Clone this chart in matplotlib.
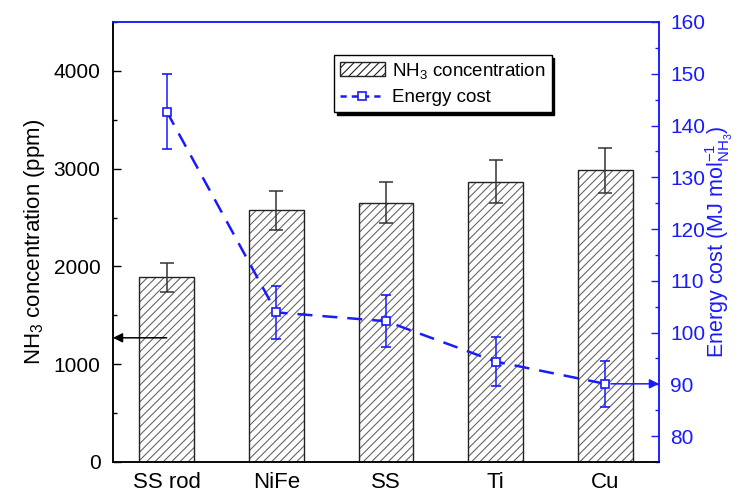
import matplotlib
matplotlib.use("Agg")
import matplotlib.pyplot as plt
from matplotlib.lines import Line2D
from matplotlib.patches import Patch
from matplotlib.ticker import MultipleLocator

# --- datos ---
electrodes = ["SS rod", "NiFe", "SS", "Ti", "Cu"]
nh3_ppm = [1888, 2575, 2652, 2867, 2983]
nh3_err = [150, 200, 208, 221, 233]
energy_cost = [142.7, 103.9, 102.2, 94.4, 90.1]
energy_err = [7.2, 5.1, 5.0, 4.7, 4.5]

plt.rcParams["font.family"] = ["Liberation Sans", "DejaVu Sans"]
plt.rcParams["mathtext.fontset"] = "custom"
plt.rcParams["mathtext.rm"] = "Liberation Sans"
plt.rcParams["mathtext.default"] = "regular"
plt.rcParams["hatch.linewidth"] = 0.8

BLUE = "#1a1aff"
FS_TICK = 15
FS_LAB = 16

fig = plt.figure(figsize=(7.42, 4.93), dpi=100)
ax = fig.add_axes([0.1523, 0.0629, 0.7358, 0.8925])
ax2 = ax.twinx()

x = list(range(len(electrodes)))

# barras: relleno con rayado gris + borde negro encima
ax.bar(x, nh3_ppm, width=0.5, color="white", edgecolor="#666666",
       hatch="////", linewidth=0, zorder=2)
ax.bar(x, nh3_ppm, width=0.5, fill=False, edgecolor="#222222",
       linewidth=1.0, zorder=3)
ax.errorbar(x, nh3_ppm, yerr=nh3_err, fmt="none", ecolor="#333333",
            elinewidth=1.1, capsize=4.7, capthick=1.1, zorder=4)

ax.set_xlim(-0.49, 4.49)
ax.set_ylim(0, 4500)
ax.yaxis.set_major_locator(MultipleLocator(1000))
ax.yaxis.set_minor_locator(MultipleLocator(500))
ax.set_xticks(x)
ax.set_xticklabels(electrodes, fontsize=FS_LAB)
ax.tick_params(axis="x", length=0, pad=7)
ax.tick_params(axis="y", which="both", direction="in", labelsize=FS_TICK, pad=9)
ax.tick_params(axis="y", which="major", length=6, width=1)
ax.tick_params(axis="y", which="minor", length=3, width=1)
ax.set_ylabel("NH$_3$ concentration (ppm)", fontsize=FS_LAB, labelpad=5)

# curva de coste energetico
ax2.errorbar(x, energy_cost, yerr=energy_err, color=BLUE, ecolor=BLUE,
             elinewidth=1.1, capsize=3.4, capthick=1.1, lw=1.8,
             dashes=(6, 4), marker="s", ms=6, mfc="white", mec=BLUE,
             mew=1.2, zorder=5)
ax2.set_ylim(75, 160)
ax2.set_yticks(range(80, 161, 10))
ax2.yaxis.set_minor_locator(MultipleLocator(5))
ax2.tick_params(axis="y", which="both", direction="in", colors=BLUE,
                labelsize=FS_TICK, pad=8)
ax2.tick_params(axis="y", which="major", length=6, width=1)
ax2.tick_params(axis="y", which="minor", length=3, width=1)
ax2.set_ylabel(r"Energy cost (MJ mol$_{NH_3}^{-1}$)", color=BLUE,
               fontsize=15.5, labelpad=-1)

for a in (ax, ax2):
    for s in a.spines.values():
        s.set_linewidth(1.1)
    a.spines["right"].set_color(BLUE)
    a.spines["top"].set_color(BLUE)
    a.spines["left"].set_color("black")
    a.spines["bottom"].set_color("black")

# flechas indicando el eje de cada serie
ax.annotate("", xy=(0, 1270), xycoords=("axes fraction", "data"),
            xytext=(x[0], 1270), textcoords="data",
            arrowprops=dict(arrowstyle="-|>", color="black", lw=1.1,
                            mutation_scale=14, shrinkA=0, shrinkB=0))
ax2.annotate("", xy=(1, energy_cost[-1]), xycoords=("axes fraction", "data"),
             xytext=(x[-1], energy_cost[-1]), textcoords="data",
             arrowprops=dict(arrowstyle="-|>", color=BLUE, lw=1.1,
                             mutation_scale=14, shrinkA=4, shrinkB=0))

handles = [
    Patch(facecolor="white", edgecolor="#222222", hatch="////", linewidth=1.0),
    Line2D([], [], color=BLUE, lw=1.8, dashes=(2.5, 2), marker="s", ms=6,
           mfc="white", mec=BLUE, mew=1.2),
]
leg = ax2.legend(handles, ["NH$_3$ concentration", "Energy cost"],
                 loc="upper left", bbox_to_anchor=(0.405, 0.925),
                 fontsize=13.5, frameon=True, fancybox=False,
                 shadow={"color": "black", "alpha": 1},
                 edgecolor="black", framealpha=1, borderpad=0.3,
                 handlelength=2.4, handletextpad=0.4, labelspacing=0.45,
                 borderaxespad=0)
leg.get_frame().set_linewidth(1.0)

fig.savefig("out.png", dpi=100)
